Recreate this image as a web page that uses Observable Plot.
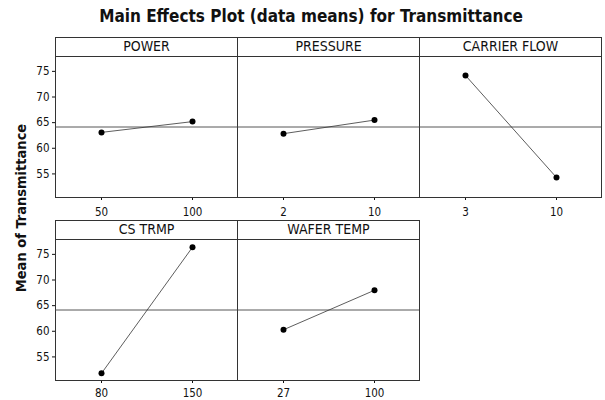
<!DOCTYPE html>
<html><head><meta charset="utf-8">
<script src="https://cdn.jsdelivr.net/npm/d3@7"></script>
<script src="https://cdn.jsdelivr.net/npm/@observablehq/plot@0.6"></script>
<style>
body{margin:0;background:#fff;}
#chart{position:relative;width:605px;height:400px;font-family:"DejaVu Sans Condensed","DejaVu Sans",sans-serif;color:#111;}
.title{position:absolute;left:0;width:622px;top:6px;text-align:center;font-weight:bold;font-size:17px;}
.ylab{position:absolute;left:21px;top:208px;transform:translate(-50%,-50%) rotate(-90deg);font-weight:bold;font-size:14.5px;white-space:nowrap;}
.strip{position:absolute;box-sizing:border-box;border:1px solid #333;text-align:center;font-size:14px;line-height:17px;background:#fff;}
.panel{position:absolute;}
</style></head>
<body>
<div id="chart">
  <div class="title">Main Effects Plot (data means) for Transmittance</div>
  <div class="ylab">Mean of Transmittance</div>
</div>
<script>
// ---- data ----
const factors = ["POWER", "PRESSURE", "CARRIER FLOW", "CS TRMP", "WAFER TEMP"];
const levels = [["50", "100"], ["2", "10"], ["3", "10"], ["80", "150"], ["27", "100"]];
const means = [[63.1, 65.2], [62.85, 65.5], [74.2, 54.3], [51.8, 76.4], [60.3, 68.0]];
const grandMean = [64.15];
const yTicks = [55, 60, 65, 70, 75];

// ---- layout ----
const colX = [55, 237, 419];
const colW = 182;
const rowStrip = [37, 220];
const rowTop = [56, 239];
const rowBottom = [30, 20];
const rowPad = [7, 5];
const plotH = 141;
const stripH = 20;
const font = '"DejaVu Sans Condensed","DejaVu Sans",sans-serif';

const chart = document.getElementById("chart");

factors.forEach((f, i) => {
  const row = i < 3 ? 0 : 1;
  const col = i % 3;
  const ml = col === 0 ? 55 : 0;
  const data = levels[i].map((l, j) => ({level: l, mean: means[i][j]}));

  const strip = document.createElement("div");
  strip.className = "strip";
  strip.style.left = colX[col] + "px";
  strip.style.top = rowStrip[row] + "px";
  strip.style.width = (colW + 1) + "px";
  strip.style.height = stripH + "px";
  strip.textContent = f;

  const p = Plot.plot({
    width: ml + colW + 1,
    height: plotH + rowBottom[row],
    marginTop: 0,
    marginBottom: rowBottom[row],
    marginLeft: ml,
    marginRight: 1,
    style: {fontSize: "11.5px", fontFamily: font, color: "#111", background: "transparent", overflow: "visible"},
    x: {type: "point", domain: levels[i], padding: 0.5, tickSize: 3, tickPadding: rowPad[row], label: null},
    y: {domain: [50.4, 77.9], ticks: yTicks, tickSize: 3, tickPadding: 3, label: null, axis: col === 0 ? "left" : null},
    marks: [
      Plot.frame({stroke: "#333"}),
      Plot.ruleY(grandMean, {stroke: "#444", strokeWidth: 0.9}),
      Plot.line(data, {x: "level", y: "mean", stroke: "#333", strokeWidth: 0.8}),
      Plot.dot(data, {x: "level", y: "mean", r: 3, fill: "#000"})
    ]
  });
  p.classList.add("panel");
  p.style.left = (colX[col] - ml) + "px";
  p.style.top = rowTop[row] + "px";
  chart.appendChild(p);
  chart.appendChild(strip);
});
</script>
</body></html>
